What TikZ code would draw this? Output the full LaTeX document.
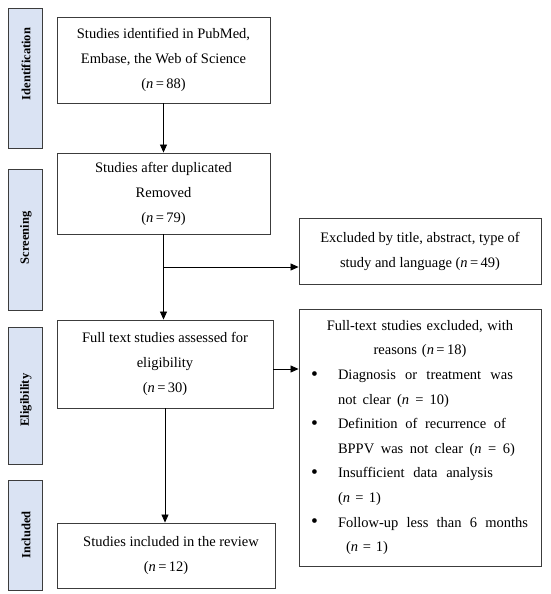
\documentclass[tikz,border=0pt]{standalone}
\usepackage{fontspec}
\usepackage{graphicx}
\setmainfont{Liberation Serif}
\usetikzlibrary{arrows.meta,calc}
\definecolor{lblue}{RGB}{218,227,243}
\definecolor{bordergray}{RGB}{60,60,60}
\newcommand{\jline}[2]{\makebox[#1][l]{#2}}
\newcommand{\bul}{\hspace*{12pt}\makebox[27pt][l]{\raisebox{-0.6pt}{\scalebox{1.35}{\textbullet}}}}
\begin{document}
\begin{tikzpicture}[x=1pt,y=-1pt,
  box/.style={draw=bordergray,line width=0.9pt,fill=white,inner sep=0pt,align=center,
    font=\fontsize{14.5}{25}\selectfont},
  stage/.style={draw=bordergray,line width=1pt,fill=lblue,inner sep=0pt},
  stagetext/.style={rotate=90,font=\fontsize{12.5}{13}\selectfont\bfseries,inner sep=0pt},
  arr/.style={line width=0.8pt,-{Triangle[length=8pt,width=7pt]}}]
\useasboundingbox (0,0) rectangle (550,594);
% stage labels
\node[stage,minimum width=34pt,minimum height=139pt] (sid) at (25,78.5) {};
\node[stagetext] (tid) at (26,64) {Identification};
\node[stage,minimum width=34pt,minimum height=141pt] (ssc) at (25,239.5) {};
\node[stagetext] (tsc) at (26,238) {Screening};
\node[stage,minimum width=34pt,minimum height=137pt] (sel) at (25,395.5) {};
\node[stagetext] (tel) at (26,400) {Eligibility};
\node[stage,minimum width=34pt,minimum height=110pt] (sin) at (25,535) {};
\node[stagetext] (tin) at (26,535) {Included};
% boxes
\node[box,minimum width=213pt,minimum height=86pt] (b1) at (163.5,60)
  {Studies identified in PubMed,\\Embase, the Web of Science\\(\textit{n}\,=\,88)};
\node[box,minimum width=213pt,minimum height=81pt] (b2) at (163.5,193.5)
  {Studies after duplicated\\Removed\\(\textit{n}\,=\,79)};
\node[box,minimum width=242pt,minimum height=66pt] (ex) at (420,251)
  {Excluded by title, abstract, type of\\study and language (\textit{n}\,=\,49)};
\node[box,minimum width=216pt,minimum height=88pt] (b3) at (165,364)
  {Full text studies assessed for\\eligibility\\(\textit{n}\,=\,30)};
\node[box,minimum width=218pt,minimum height=65pt] (b4) at (166,555.5)
  {\hspace*{10pt}Studies included in the review\\(\textit{n}\,=\,12)};
\node[box,minimum width=242pt,minimum height=257pt,text width=242pt,align=left] (ft) at (420,437.5)
  {\parbox{242pt}{\baselineskip=24.6pt
   \makebox[242pt][c]{Full-text studies excluded, with}\\
   \makebox[242pt][c]{reasons (\textit{n}\,=\,18)}\\
   \bul\jline{175pt}{Diagnosis\hfill or\hfill treatment\hfill was}\\
   \hspace*{39pt}\jline{111pt}{not\hfill clear\hfill (\textit{n}\hfill =\hfill 10)}\\
   \bul\jline{168pt}{Definition\hfill of\hfill recurrence\hfill of}\\
   \hspace*{39pt}\jline{177pt}{BPPV\hfill was\hfill not\hfill clear\hfill (\textit{n}\hfill =\hfill 6)}\\
   \bul\jline{155pt}{Insufficient\hfill data\hfill analysis}\\
   \hspace*{39pt}\jline{43pt}{(\textit{n}\hfill =\hfill 1)}\\
   \bul\jline{190pt}{Follow-up\hfill less\hfill than\hfill 6\hfill months}\\
   \hspace*{47pt}\jline{42pt}{(\textit{n}\hfill =\hfill 1)}}};
% connectors
\coordinate (br) at (b2.south |- 0,267);
\coordinate (e3) at ($(b3.east)+(0,5)$);
\draw[arr] (b1.south) -- (b1.south |- b2.north);
\draw[arr] (b2.south) -- (b2.south |- b3.north);
\draw[arr] (br) -- (br -| ex.west);
\draw[arr] (e3) -- (e3 -| ft.west);
\draw[arr] (b3.south) -- (b3.south |- b4.north);
\end{tikzpicture}
\end{document}
